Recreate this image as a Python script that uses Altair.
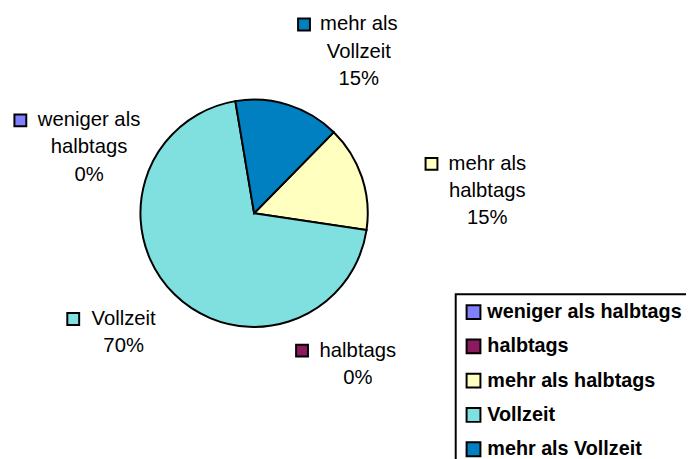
import math
import altair as alt
import pandas as pd

# ---- data ----
categories = ["weniger als halbtags", "halbtags", "mehr als halbtags", "Vollzeit", "mehr als Vollzeit"]
shares = [0, 0, 15, 70, 15]
label_words = [["weniger als", "halbtags"], ["halbtags"], ["mehr als", "halbtags"], ["Vollzeit"], ["mehr als", "Vollzeit"]]

# ---- styles / layout ----
colors = ["#8080FF", "#8B1A5E", "#FFFFC0", "#80E0E0", "#0080C0"]
start_angle = math.radians(44.5)
pie_radius = 115
# label text centre x, first-line y, symbol x (chart pixels)
label_layout = [(82, 111, 12.5), (354, 344, 297.5), (485, 155, 428.5), (117, 312, 66), (355, 14, 299.5)]
line_height = 27.5
font = "Liberation Sans"

pie_df = pd.DataFrame({"cat": categories, "share": shares, "order": list(range(len(categories)))})

rows = []
sym_rows = []
for cat, share, words, (lx, ly, sx) in zip(categories, shares, label_words, label_layout):
    lines = words + [f"{share}%"]
    for i, t in enumerate(lines):
        rows.append({"cat": cat, "text": t, "x": lx, "y": ly + i * line_height})
    sym_rows.append({"cat": cat, "x": sx, "y": ly})
lab_df = pd.DataFrame(rows)
sym_df = pd.DataFrame(sym_rows)

color_scale = alt.Scale(domain=categories, range=colors)

pie = alt.Chart(pie_df).mark_arc(stroke="black", strokeWidth=2, outerRadius=pie_radius).encode(
    theta=alt.Theta("share:Q", stack=True,
                    scale=alt.Scale(domain=[0, 100], range=[start_angle, start_angle + 2 * math.pi])),
    color=alt.Color("cat:N", scale=color_scale, sort=categories,
                    legend=alt.Legend(title=None, orient="none", legendX=453, legendY=287,
                                      strokeColor="black", padding=8, rowPadding=12.7,
                                      symbolType="square", symbolSize=196,
                                      symbolStrokeColor="black", symbolStrokeWidth=2,
                                      labelFont=font, labelFontSize=20, labelFontWeight="bold",
                                      labelColor="black", labelOffset=4, labelLimit=400)),
    order=alt.Order("order:Q"),
)

texts = alt.Chart(lab_df).mark_text(font=font, fontSize=20.5, color="black", align="center", baseline="middle").encode(
    x=alt.X("x:Q", scale=None),
    y=alt.Y("y:Q", scale=None),
    text="text:N",
)

syms = alt.Chart(sym_df).mark_square(size=144, filled=True, stroke="black", strokeWidth=2, opacity=1).encode(
    x=alt.X("x:Q", scale=None),
    y=alt.Y("y:Q", scale=None),
    color=alt.Color("cat:N", scale=color_scale, legend=None),
)

chart = alt.layer(pie, texts, syms).properties(
    width=498, height=410,
    autosize=alt.AutoSizeParams(type="none"),
    padding={"left": 0, "top": 0, "right": 188, "bottom": 41},
    background="white",
).configure_view(stroke=None).configure_legend(strokeWidth=2)

chart.save("out.html", embed_options={"renderer": "svg", "actions": False})
